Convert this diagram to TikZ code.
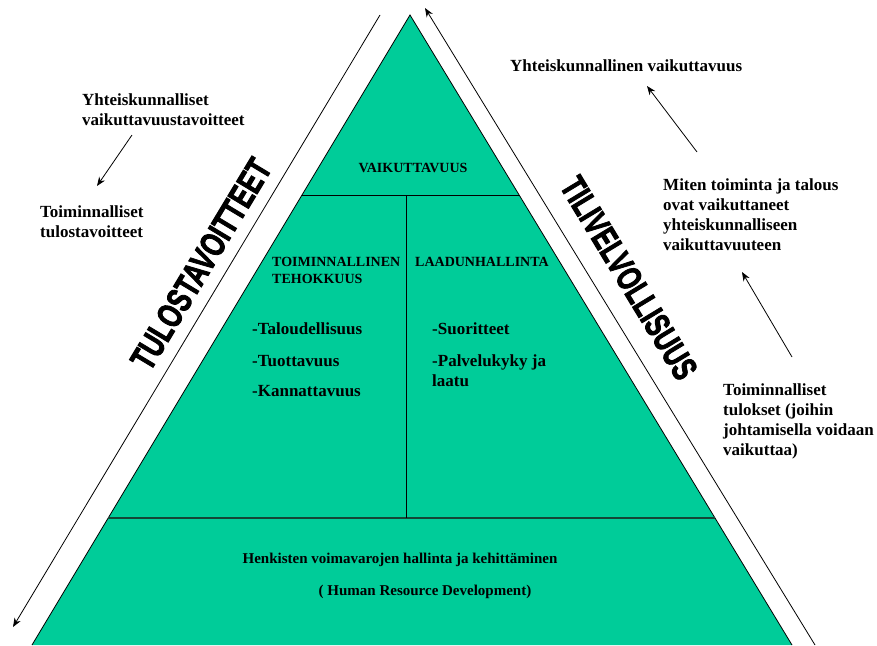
\documentclass[tikz,border=0pt]{standalone}
\usepackage{fontspec}
\setmainfont{Liberation Serif}
\newfontfamily\impactfont{Liberation Sans}[BoldFeatures={FakeBold=3}]
\usetikzlibrary{arrows.meta}
\definecolor{pyrgreen}{RGB}{0,204,153}
\definecolor{darkline}{RGB}{20,70,55}
\newcommand{\mylines}[1]{\begin{tabular}[t]{@{}l@{}}#1\end{tabular}}
\begin{document}
\begin{tikzpicture}[x=1pt,y=-1pt,
  txt/.style={font=\fontsize{17}{20}\selectfont\bfseries, inner sep=0pt, anchor=base west},
  captxt/.style={font=\fontsize{14}{17}\selectfont\bfseries, inner sep=0pt, anchor=base west},
  bottomtxt/.style={font=\fontsize{15}{18}\selectfont\bfseries, inner sep=0pt, anchor=base},
  bigword/.style={font=\impactfont\fontsize{35}{35}\selectfont\bfseries, inner sep=0pt},
  edge/.style={line width=0.8pt},
  arr/.style={line width=0.8pt, -{Stealth[length=9pt,width=7pt]}}]
\useasboundingbox (0,0) rectangle (877,645);
% pyramid
\coordinate (apex) at (410,15);
\coordinate (bl) at (32,645);
\coordinate (br) at (792,645);
\fill[pyrgreen] (apex) -- (bl) -- (br) -- cycle;
\draw[edge] (bl) -- (apex) -- (br);
\path (apex) -- (bl) coordinate[pos=0.2857] (t1) coordinate[pos=0.7984] (m1);
\path (apex) -- (br) coordinate[pos=0.2857] (t2) coordinate[pos=0.7984] (m2);
\draw[edge] (t1) -- (t2);
\draw[darkline, line width=1.6pt] (m1) -- (m2);
\coordinate (v1) at (406,195);
\coordinate (v2) at (406,518);
\draw[edge] (v1) -- (v2);
% outer arrows
\coordinate (lt) at (380,15);
\coordinate (lb) at (13,627);
\draw[arr] (lt) -- (lb);
\coordinate (rb) at (815,645);
\coordinate (rt) at (425,8);
\draw[arr] (rb) -- (rt);
% rotated labels
\node[bigword, rotate=59] (tulos) at (201,264) {\scalebox{0.72}[1]{TULOSTAVOITTEET}};
\node[bigword, rotate=-58.8] (tili) at (629,278) {\scalebox{0.70}[1]{TILIVELVOLLISUUS}};
% left texts
\node[txt] (ytav) at (82,105) {\mylines{Yhteiskunnalliset\\vaikuttavuustavoitteet}};
\node[txt] (ttav) at (40,217) {\mylines{Toiminnalliset\\tulostavoitteet}};
\coordinate (a1s) at (132,135);
\coordinate (a1e) at (97,186);
\draw[arr] (a1s) -- (a1e);
% right texts
\node[txt] (yvai) at (510,71) {Yhteiskunnallinen vaikuttavuus};
\node[txt] (miten) at (663,190) {\mylines{Miten toiminta ja talous\\ovat vaikuttaneet\\yhteiskunnalliseen\\vaikuttavuuteen}};
\coordinate (a2s) at (697,152);
\coordinate (a2e) at (647,86);
\draw[arr] (a2s) -- (a2e);
\node[txt] (ttul) at (723,395) {\mylines{Toiminnalliset\\tulokset (joihin\\johtamisella voidaan\\vaikuttaa)}};
\coordinate (a3s) at (792,357);
\coordinate (a3e) at (742,272);
\draw[arr] (a3s) -- (a3e);
% inside texts
\node[captxt, anchor=base] (vaik) at (413,172) {VAIKUTTAVUUS};
\node[captxt] (toim) at (272,266) {\mylines{TOIMINNALLINEN\\TEHOKKUUS}};
\node[captxt] (laad) at (415,266) {LAADUNHALLINTA};
\node[txt] (b1) at (252,334) {-Taloudellisuus};
\node[txt] (b2) at (252,366) {-Tuottavuus};
\node[txt] (b3) at (252,396) {-Kannattavuus};
\node[txt] (b4) at (432,334) {-Suoritteet};
\node[txt] (b5) at (432,366) {\mylines{-Palvelukyky ja\\laatu}};
\node[bottomtxt] (henk) at (400,563) {Henkisten voimavarojen hallinta ja kehittäminen};
\node[bottomtxt] (hrd) at (425,595) {( Human Resource Development)};
\end{tikzpicture}
\end{document}
